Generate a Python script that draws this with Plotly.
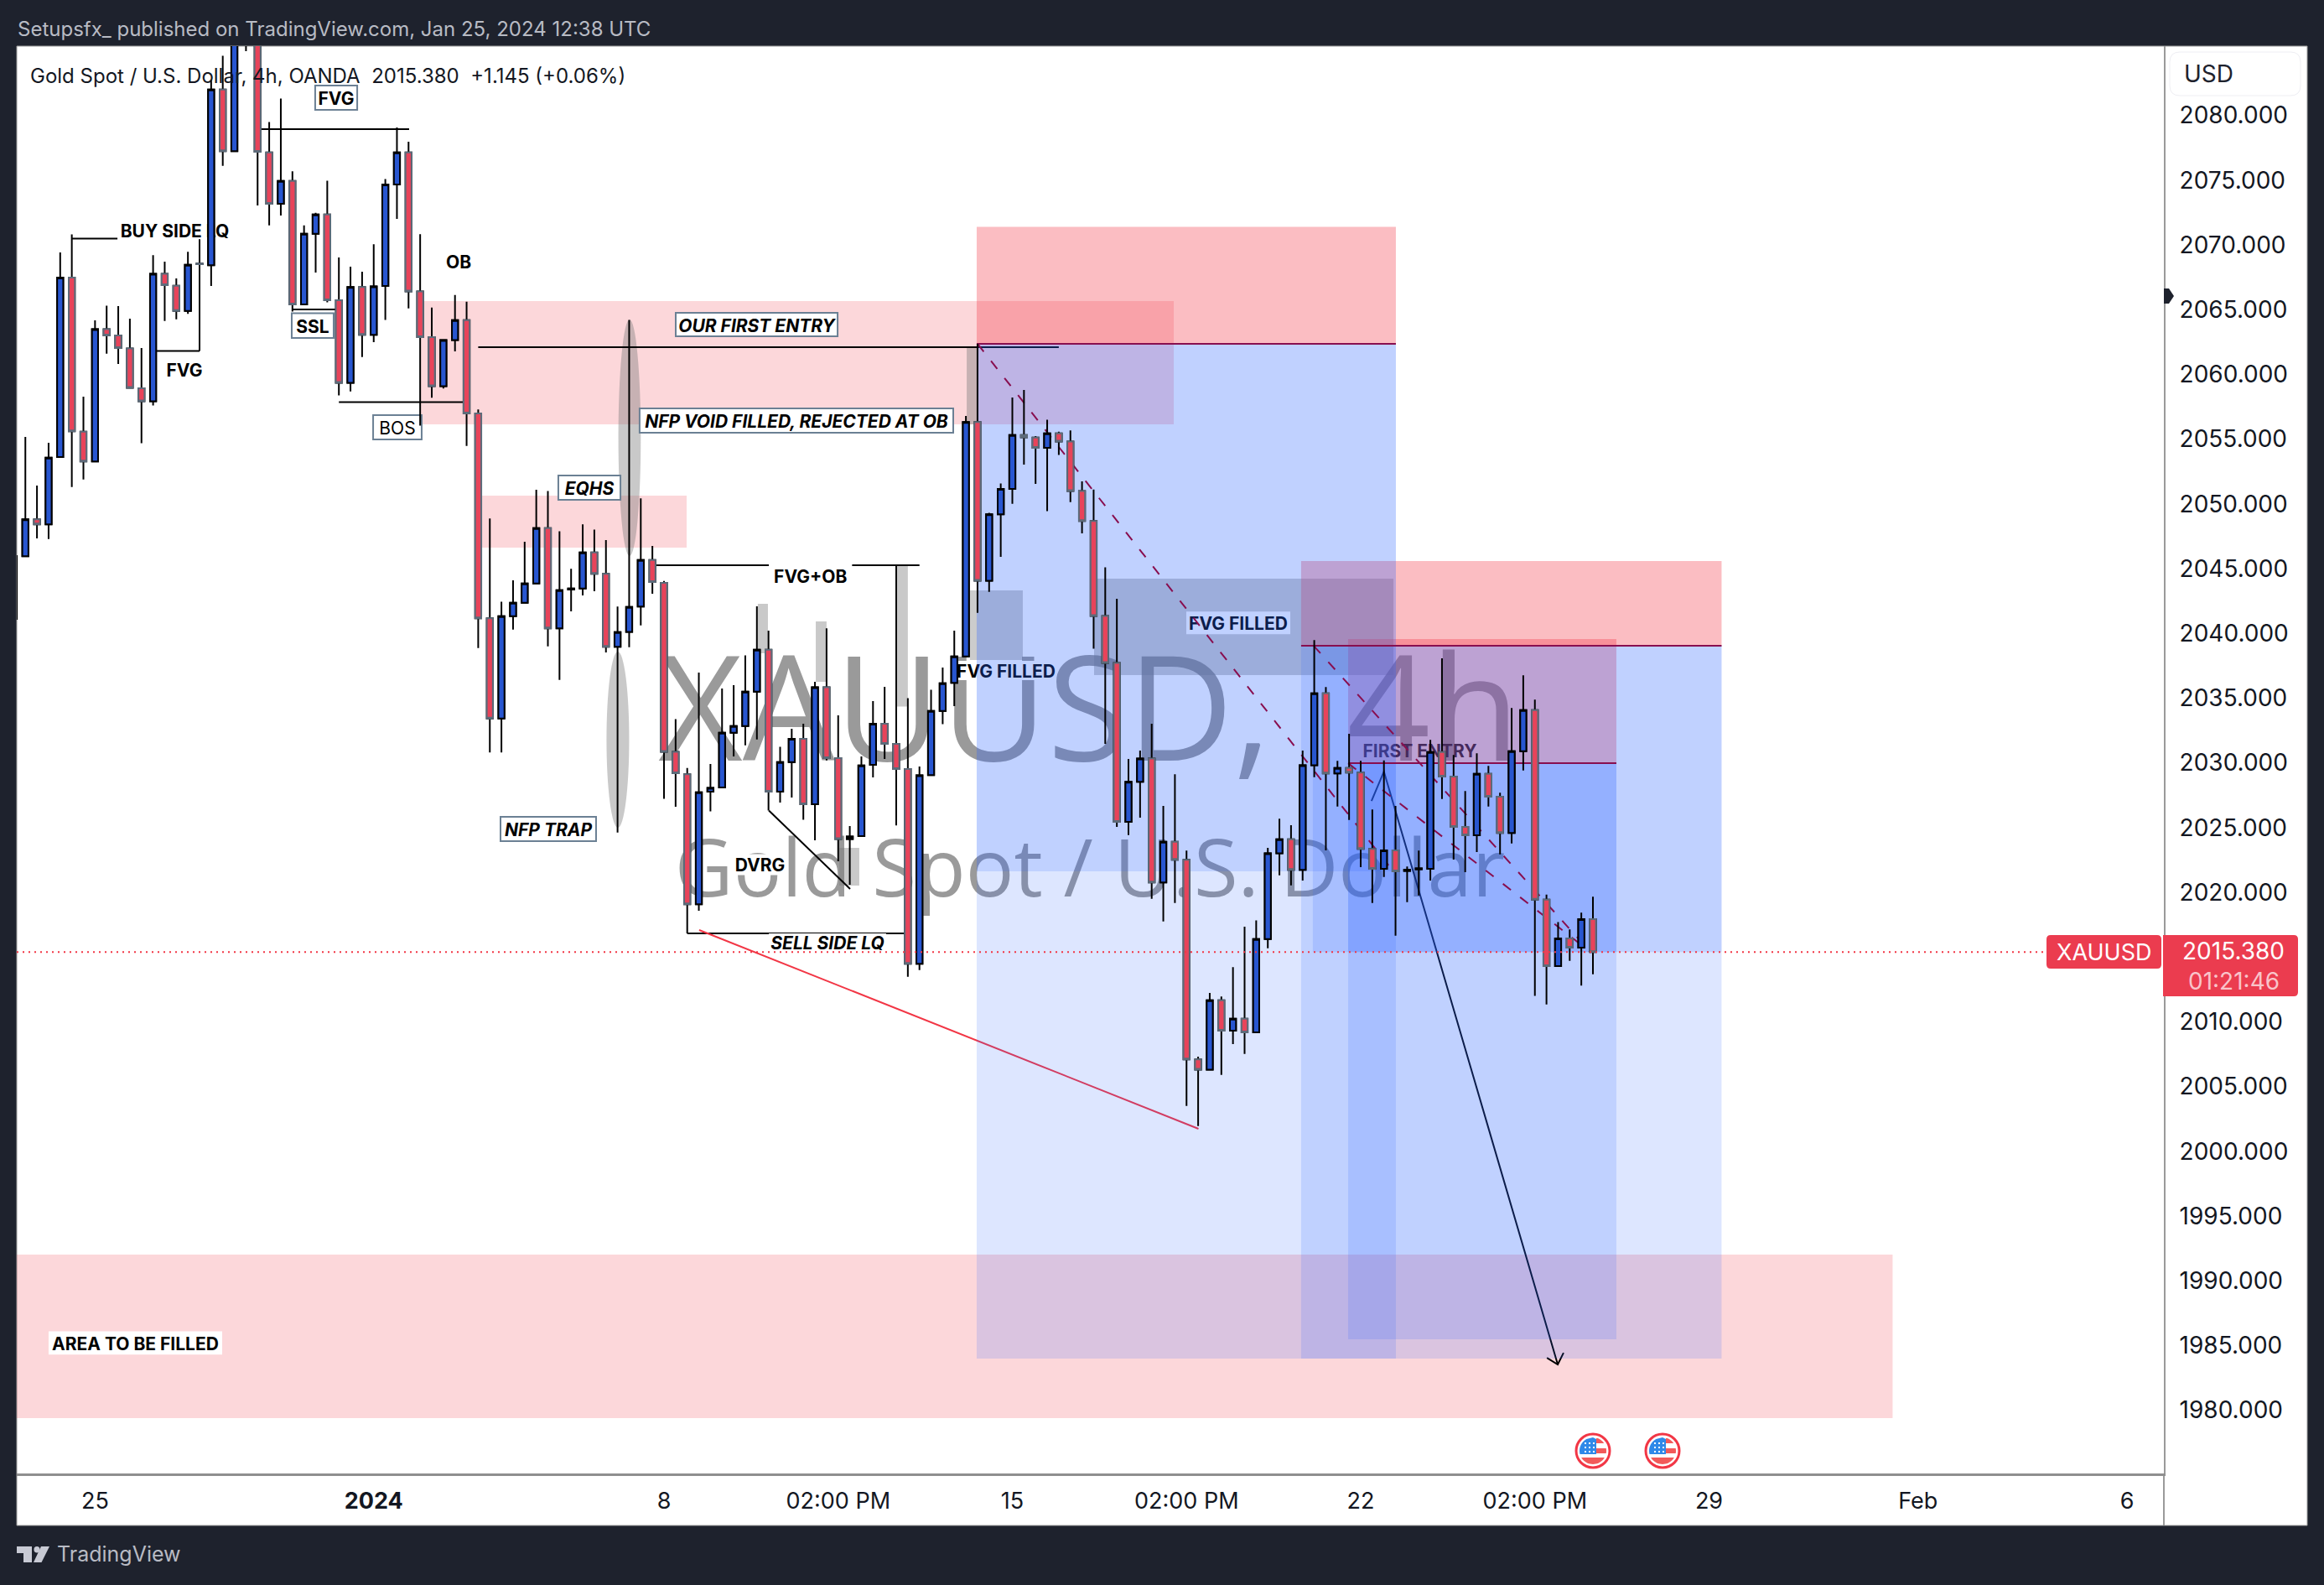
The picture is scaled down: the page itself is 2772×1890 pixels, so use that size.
import plotly.graph_objects as go

# ---------- candle data (bar index -1 .. 135, 4h bars) ----------
opens = [2041.11,2045.95,2048.80,2048.41,2053.61,2067.47,2055.58,2053.27,2063.49,2063.00,2062.00,2058.93,2057.93,2067.77,2066.85,2064.90,2068.56,2068.43,2082.0,2077.24,2088.5,2087.0,2077.14,2073.17,2074.94,2065.40,2070.86,2072.35,2065.73,2059.35,2066.74,2063.06,2066.83,2074.66,2077.14,2066.41,2062.88,2059.09,2062.65,2064.18,2056.99,2041.16,2033.43,2041.33,2042.36,2043.85,2048.13,2040.38,2043.38,2043.47,2046.25,2044.59,2038.96,2040.11,2042.07,2045.67,2043.90,2030.85,2029.12,2019.08,2027.77,2028.10,2032.33,2032.84,2035.50,2038.74,2027.77,2030.06,2031.85,2026.80,2035.83,2030.37,2024.12,2024.34,2029.85,2033.02,2031.46,2029.52,2014.48,2029.05,2034.0,2036.17,2038.22,2056.32,2044.06,2049.20,2051.16,2055.32,2055.12,2054.33,2055.44,2054.82,2051.0,2048.67,2041.35,2037.72,2025.44,2028.53,2030.34,2020.76,2023.91,2022.51,2007.09,2006.31,2011.66,2009.31,2010.24,2009.18,2016.39,2023.02,2024.10,2021.73,2029.81,2035.37,2029.18,2029.60,2029.24,2023.35,2021.81,2023.24,2021.66,2021.78,2021.81,2030.84,2028.94,2025.05,2024.40,2029.15,2027.38,2024.58,2030.90,2034.07,2019.44,2014.30,2016.44,2015.73,2017.93]
highs = [2045.95,2055.17,2051.41,2054.72,2069.42,2070.81,2058.28,2064.17,2065.31,2065.28,2064.30,2062.03,2069.20,2068.70,2067.41,2069.46,2070.43,2082.76,2084.61,2088.0,2088.8,2087.5,2079.49,2081.31,2075.68,2071.50,2072.47,2074.96,2069.03,2068.32,2067.93,2070.05,2075.09,2079.07,2077.97,2070.82,2065.16,2062.65,2066.13,2065.62,2057.29,2048.87,2042.45,2044.09,2047.07,2051.09,2051.0,2047.89,2044.98,2048.41,2048.02,2047.20,2042.07,2064.20,2050.42,2046.75,2044.05,2033.37,2029.60,2036.97,2029.91,2035.74,2036.0,2038.30,2042.09,2040.21,2031.24,2032.63,2033.02,2036.26,2040.38,2033.67,2025.12,2030.49,2034.77,2035.87,2045.26,2034.99,2029.72,2035.64,2037.36,2040.21,2056.79,2062.36,2049.31,2051.58,2058.21,2058.80,2055.23,2056.50,2055.58,2055.67,2051.74,2051.11,2045.10,2042.67,2030.30,2030.95,2033.02,2026.67,2029.11,2023.22,2007.31,2012.23,2011.95,2014.22,2017.34,2017.84,2023.43,2025.68,2025.18,2030.95,2039.48,2035.85,2030.15,2032.24,2030.15,2026.39,2030.19,2026.67,2021.99,2023.22,2031.77,2038.07,2030.60,2027.82,2030.73,2029.76,2027.69,2034.23,2036.76,2034.88,2019.83,2017.71,2017.13,2018.43,2019.66]
lows = [2041.11,2045.95,2047.33,2047.29,2053.61,2051.30,2051.88,2053.27,2061.60,2060.80,2058.96,2054.68,2057.60,2064.13,2064.26,2064.67,2061.93,2066.83,2076.11,2077.24,2084.96,2073.04,2071.50,2072.27,2064.85,2065.40,2067.86,2065.56,2058.37,2058.68,2061.34,2062.49,2064.21,2072.01,2065.10,2056.04,2058.19,2058.91,2061.77,2054.48,2038.87,2030.80,2030.80,2040.29,2042.36,2043.85,2039.0,2036.41,2041.70,2042.93,2043.25,2038.52,2024.62,2038.93,2040.62,2043.06,2027.22,2026.61,2016.83,2018.58,2026.25,2028.10,2030.49,2031.36,2031.80,2026.32,2026.94,2027.32,2025.60,2024.02,2030.18,2022.40,2020.58,2024.34,2028.87,2030.30,2025.16,2013.48,2013.99,2029.05,2032.98,2034.38,2038.22,2041.59,2043.21,2045.91,2050.01,2053.03,2051.55,2049.43,2053.78,2050.14,2047.72,2038.81,2031.46,2025.05,2024.42,2025.76,2019.50,2017.75,2019.18,2003.50,2001.95,2006.31,2005.90,2008.28,2007.52,2009.18,2015.68,2021.31,2020.54,2020.91,2028.89,2023.24,2026.63,2025.59,2021.94,2019.18,2021.19,2016.65,2019.24,2019.76,2020.91,2027.21,2022.53,2021.55,2023.11,2026.63,2022.93,2023.78,2029.41,2012.01,2011.34,2014.30,2014.71,2012.79,2013.67]
closes = [2045.95,2048.80,2048.41,2053.57,2067.47,2055.60,2053.27,2063.49,2063.01,2062.03,2058.96,2057.93,2067.77,2066.89,2064.90,2068.46,2068.51,2082.0,2077.24,2087.0,2086.5,2077.19,2073.17,2074.94,2065.40,2070.86,2072.35,2065.73,2059.35,2066.74,2063.06,2066.79,2074.66,2077.14,2066.41,2062.88,2059.09,2062.65,2064.18,2056.99,2041.16,2033.43,2041.33,2042.36,2043.85,2048.13,2040.38,2043.34,2043.47,2046.25,2044.59,2038.96,2040.10,2042.04,2045.67,2043.96,2030.85,2029.20,2019.08,2027.73,2028.06,2032.33,2032.84,2035.50,2038.74,2027.77,2030.06,2031.85,2026.80,2035.83,2030.37,2024.12,2024.31,2029.79,2033.02,2031.46,2029.52,2014.48,2029.03,2034.0,2036.15,2038.21,2056.32,2044.06,2049.20,2051.16,2055.32,2055.14,2054.33,2055.44,2054.82,2051.0,2048.67,2041.35,2037.72,2025.44,2028.53,2030.34,2020.76,2023.91,2022.51,2007.09,2006.31,2011.66,2009.31,2010.24,2009.18,2016.39,2023.02,2024.10,2021.73,2029.81,2035.37,2029.18,2029.60,2029.24,2023.35,2021.81,2023.24,2021.62,2021.74,2021.84,2030.84,2028.94,2025.05,2024.40,2029.15,2027.38,2024.58,2030.90,2034.07,2019.44,2014.30,2016.44,2015.73,2017.93,2015.38]
bars = list(range(-1, len(opens) - 1))

# ---------- axes (2015 is covered by the last-price tag in the reference) ----------
price_ticks = [1980,1985,1990,1995,2000,2005,2010,2020,2025,2030,2035,2040,2045,2050,2055,2060,2065,2070,2075,2080]
time_tick_bars = [6,30,55,70,85,100,115,130,145,163,181]
time_tick_text = ["25","<b>2024</b>","8","02:00 PM","15","02:00 PM","22","02:00 PM","29","Feb","6"]
last_price = 2015.38
bar_range = [-0.74, 184.17]
price_range = [1975.12, 2085.35]

# ---------- drawing values, in (bar, price) units ----------
# supply zones: bar0, bar1, price0, price1
pink_zones = [(33.99,98.9,2065.66,2056.14),(39.33,56.95,2050.63,2046.62),(-0.74,160.81,1992.02,1979.39)]
fvg_zones = [(81.35,85.9,2043.32,2037.94),(92.04,117.82,2044.22,2036.77)]
grey_bars = [(63.08,63.95,2042.28,2038.46),(68.07,69.0,2040.92,2036.26),(75.07,76.0,2045.26,2034.35),(70.09,71.82,2023.43,2020.52),(81.07,81.93,2062.03,2056.14)]
ellipses = [(51.07,53.0,2064.24,2045.97),(50.05,52.0,2038.59,2024.99)]
# positions: bar0, fill bar0, bar1, stop, entry, filled-to, target
positions = [(81.93,81.93,118.03,2071.39,2062.36,2021.62,1983.99),
             (109.87,110.88,146.08,2045.58,2039.04,2015.38,1983.99),
             (113.92,113.92,137.02,2039.56,2029.97,2015.38,1985.48)]
stat_lines = [(82.0,2062.36,117.8,2021.62),(110.95,2039.04,134.8,2015.38),(113.92,2029.97,134.8,2015.38)]
black_lines = [(4.03,2070.48,15.0,2070.48),(11.0,2061.81,15.0,2061.81),(15.0,2070.48,15.0,2061.81),(20.27,2078.94,33.05,2078.94),
               (23.0,2065.01,26.73,2065.01),(27.0,2057.86,37.8,2057.86),(39.0,2062.1,89.0,2062.1),
               (54.3,2045.26,77.0,2045.26),(57.0,2016.83,75.8,2016.83),(64.03,2026.32,71.03,2020.26)]
red_line = (58.03,2017.09,101.03,2001.74)
arrow_xs = [115.93,117.0,131.97]
arrow_ys = [2027.06,2029.33,1983.54]
arrow_head_xs = [131.04,131.97,132.47]
arrow_head_ys = [1984.05,1983.54,1984.44]
# labels: text, bar0, bar1, price0, price1, fill, border
labels = [("<b>FVG</b>",24.96,28.58,2082.31,2080.43,True,True),
          ("<b>SSL</b>",22.94,26.55,2064.72,2062.81,True,True),
          ("BOS",29.95,34.13,2056.85,2054.97,True,True),
          ("<b><i>EQHS</i></b>",45.90,51.25,2052.19,2050.31,True,True),
          ("<b><i>NFP VOID FILLED, REJECTED AT OB</i></b>",52.90,79.91,2057.37,2055.49,True,True),
          ("<b><i>OUR FIRST ENTRY</i></b>",56.01,69.95,2064.75,2062.94,True,True),
          ("<b><i>NFP TRAP</i></b>",40.92,49.15,2025.83,2023.95,True,True),
          ("<b>FVG</b>",11.9,15.5,2061.19,2059.64,False,False),
          ("<b>OB</b>",35.94,38.68,2069.61,2067.93,False,False),
          ("<b>BUY SIDE LQ</b>",7.93,17.82,2072.0,2070.3,True,False),
          ("<b>DVRG</b>",61.06,65.47,2022.95,2021.33,True,False),
          ("<b>AREA TO BE FILLED</b>",2.0,16.95,1986.1,1984.3,True,False),
          ("<b>FVG FILLED</b>",80.2,88.72,2037.88,2036.39,True,False),
          ("<b>FVG FILLED</b>",99.98,108.94,2041.68,2039.93,True,False),
          ("<b>FIRST ENTRY</b>",115.29,124.89,2031.5,2030.47,False,False),
          ("<b>FVG+OB</b>",64.03,71.2,2045.6,2043.33,True,False),
          ("<b><i>SELL SIDE LQ</i></b>",64.03,74.13,2016.83,2015.47,True,False)]

W, H = 2772, 1890
PANE_L, PANE_R, PANE_T, PANE_B = 20, 2581, 55, 1757
FONT = "Inter"
DARK = "#1e222d"


def fx(x):
    return x / W


def fy(y):
    return 1 - y / H


def frect(x0, y0, x1, y1, fill, line=None, lw=0, layer="below", label=None):
    d = dict(type="rect", xref="paper", yref="paper", x0=fx(x0), x1=fx(x1), y0=fy(y0), y1=fy(y1),
             fillcolor=fill, line=dict(color=line or "rgba(0,0,0,0)", width=lw), layer=layer)
    if label:
        d["label"] = label
    return d


def rounded(x0, y0, x1, y1, r, fill, line=None, lw=0, layer="above", corners=(1, 1, 1, 1)):
    tl, tr, br, bl = [r * c for c in corners]
    p = (f"M{fx(x0 + tl)},{fy(y0)} L{fx(x1 - tr)},{fy(y0)} Q{fx(x1)},{fy(y0)} {fx(x1)},{fy(y0 + tr)} "
         f"L{fx(x1)},{fy(y1 - br)} Q{fx(x1)},{fy(y1)} {fx(x1 - br)},{fy(y1)} L{fx(x0 + bl)},{fy(y1)} "
         f"Q{fx(x0)},{fy(y1)} {fx(x0)},{fy(y1 - bl)} L{fx(x0)},{fy(y0 + tl)} Q{fx(x0)},{fy(y0)} {fx(x0 + tl)},{fy(y0)} Z")
    return dict(type="path", xref="paper", yref="paper", path=p, fillcolor=fill,
                line=dict(color=line or "rgba(0,0,0,0)", width=lw), layer=layer)


def poly(points, fill, layer="above"):
    p = "M" + " L".join(f"{fx(x)},{fy(y)}" for x, y in points) + " Z"
    return dict(type="path", xref="paper", yref="paper", path=p, fillcolor=fill,
                line=dict(color="rgba(0,0,0,0)", width=0), layer=layer)


def clipped(cx, cy, r, x0, x1, y0, y1, fill):
    n = 10
    left, right = [], []
    for k in range(n + 1):
        y = y0 + (y1 - y0) * k / n
        d = max(r * r - (y - cy) ** 2, 0) ** 0.5
        left.append((max(x0, cx - d), y))
        right.append((min(x1, cx + d), y))
    return poly(left + right[::-1], fill)


def flag(cx, cy):
    out = [dict(type="circle", xref="paper", yref="paper", x0=fx(cx - 20), x1=fx(cx + 20), y0=fy(cy - 20), y1=fy(cy + 20),
                fillcolor="white", line=dict(color="#f23645", width=3), layer="above")]
    r = 16
    out.append(clipped(cx, cy, r, cx - 16, cx + 4, cy - 16, cy + 4, "#2f89e8"))
    out.append(clipped(cx, cy, r, cx + 4, cx + 16, cy - 15, cy - 9, "#f25a5a"))
    out.append(clipped(cx, cy, r, cx + 4, cx + 16, cy - 3, cy + 3, "#f25a5a"))
    out.append(clipped(cx, cy, r, cx - 16, cx + 16, cy + 8, cy + 16, "#f25a5a"))
    for i in range(3):
        for j in range(3):
            sx, sy = cx - 10 + 5 * i, cy - 10 + 5 * j
            out.append(frect(sx, sy, sx + 2, sy + 2, "white", layer="above"))
    return out


def drect(x0, x1, y0, y1, fill, **kw):
    return dict(type="rect", xref="x", yref="y", x0=x0, x1=x1, y0=y0, y1=y1, fillcolor=fill,
                line=kw.pop("line", dict(width=0)), layer=kw.pop("layer", "below"), **kw)


def dline(x0, y0, x1, y1, color, width=2, dash="solid", layer="below"):
    return dict(type="line", xref="x", yref="y", x0=x0, y0=y0, x1=x1, y1=y1,
                line=dict(color=color, width=width, dash=dash), layer=layer)


def dpath(xs, ys, color, width=2):
    p = "M" + " L".join(f"{a},{b}" for a, b in zip(xs, ys))
    return dict(type="path", xref="x", yref="y", path=p, fillcolor="rgba(0,0,0,0)",
                line=dict(color=color, width=width), layer="below")


shapes = []
# chrome
shapes.append(frect(PANE_L, PANE_T, 2752, 1819, "white", line="#9a9a9a", lw=1))
# watermark (in the lower layer, so zones tint it)
shapes.append(frect(500, 706, 2098, 996, "rgba(0,0,0,0)", label=dict(
    text="XAUUSD,&nbsp;&nbsp;4h", textposition="middle center", font=dict(family="Open Sans", size=174, color="#9a9a9a"))))
shapes.append(frect(500, 968, 2100, 1108, "rgba(0,0,0,0)", label=dict(
    text="Gold Spot / U.S. Dollar", textposition="middle center", font=dict(family="Open Sans", size=96, color="#9a9a9a"))))
# pink zones, FVG zones, grey marks
for x0, x1, y0, y1 in pink_zones:
    shapes.append(drect(x0, x1, y0, y1, "rgba(242,54,69,0.2)"))
for x0, x1, y0, y1 in fvg_zones:
    shapes.append(drect(x0, x1, y0, y1, "rgba(120,120,120,0.38)"))
for x0, x1, y0, y1 in grey_bars:
    shapes.append(drect(x0, x1, y0, y1, "rgba(120,120,120,0.4)"))
for x0, x1, y0, y1 in ellipses:
    shapes.append(dict(type="circle", xref="x", yref="y", x0=x0, x1=x1, y0=y0, y1=y1,
                       fillcolor="rgba(120,120,120,0.4)", line=dict(width=0), layer="below"))
# black lines
for x0, y0, x1, y1 in black_lines:
    shapes.append(dline(x0, y0, x1, y1, "#000000", 2))
shapes.append(dline(*red_line, "#f23645", 2))
shapes.append(dpath(arrow_xs, arrow_ys, "#000000", 2))
shapes.append(dpath(arrow_head_xs, arrow_head_ys, "#000000", 2))
# text labels
for text, x0, x1, y0, y1, fill, border in labels:
    shapes.append(drect(x0, x1, y0, y1, "white" if fill else "rgba(0,0,0,0)",
                        line=dict(color="#6b8094" if border else "rgba(0,0,0,0)", width=2 if border else 0),
                        label=dict(text=text, textposition="middle center", padding=0,
                                   font=dict(family=FONT, size=21, color="#000000"))))
# positions: stop areas first, then target areas tint them
for x0, xf, x1, stop, entry, filled, target in positions:
    shapes.append(drect(x0, x1, entry, stop, "rgba(242,54,69,0.33)"))
for x0, xf, x1, stop, entry, filled, target in positions:
    shapes.append(drect(x0, x1, target, entry, "rgba(41,98,255,0.16)"))
    shapes.append(drect(xf, x1, filled, entry, "rgba(41,98,255,0.16)"))
for x0, xf, x1, stop, entry, filled, target in positions:
    shapes.append(dline(x0, entry, x1, entry, "#880e4f", 2))
for x0, y0, x1, y1 in stat_lines:
    shapes.append(dline(x0, y0, x1, y1, "#880e4f", 2, dash="12px,14px"))
# current price line
shapes.append(dline(bar_range[0], last_price, bar_range[1], last_price, "#f23645", 2, dash="2px,5px", layer="above"))
# divider in the time axis
shapes.append(dict(type="line", xref="paper", yref="paper", x0=fx(PANE_R), x1=fx(PANE_R), y0=fy(PANE_B), y1=fy(1819),
                   line=dict(color="#9a9a9a", width=2), layer="below"))
# price scale furniture
shapes.append(rounded(2588, 62, 2744, 114, 12, "white", line="#eeeef3", lw=1))
shapes.append(poly([(2581, 344), (2587, 344), (2593, 353), (2587, 362), (2581, 362)], DARK))
shapes.append(rounded(2441, 1115, 2578, 1155, 5, "#eb3c4f"))
shapes.append(rounded(2580, 1115, 2741, 1188, 5, "#eb3c4f", corners=(0, 1, 1, 0)))
# event flags
shapes += flag(1900, 1730)
shapes += flag(1983, 1730)
# footer logo
shapes.append(poly([(20, 1844), (38, 1844), (38, 1863), (28, 1863), (28, 1852), (20, 1852)], "#c8cad4"))
shapes.append(dict(type="circle", xref="paper", yref="paper", x0=fx(40.5), x1=fx(47.5), y0=fy(1844), y1=fy(1851.5),
                   fillcolor="#c8cad4", line=dict(width=0), layer="above"))
shapes.append(poly([(49, 1844), (59, 1844), (49.5, 1863), (40, 1863)], "#c8cad4"))


def note(text, x, y, size, color, anchor="center", family=FONT):
    return dict(text=text, xref="paper", yref="paper", x=fx(x), y=fy(y), xanchor=anchor, yanchor="middle",
                showarrow=False, font=dict(family=family, size=size, color=color))


annotations = [
    note("Setupsfx_ published on TradingView.com, Jan 25, 2024 12:38 UTC", 19, 35, 24, "#b8bbc4", "left"),
    note("Gold Spot / U.S. Dollar, 4h, OANDA&nbsp;&nbsp;2015.380&nbsp;&nbsp;+1.145 (+0.06%)", 34, 90, 24, "#131722", "left"),
    note("USD", 2634, 88, 28, "#1e222d"),
    note("XAUUSD", 2510, 1135, 27, "#ffffff"),
    note("2015.380", 2664, 1134, 28, "#ffffff"),
    note("01:21:46", 2664, 1170, 28, "#f9c4ca"),
    note("TradingView", 66, 1853, 25, "#b8bbc4", "left"),
]

fig = go.Figure()
# wicks
fig.add_trace(go.Candlestick(
    x=bars, open=opens, high=highs, low=lows, close=closes,
    increasing=dict(line=dict(color="#000000", width=2), fillcolor="#2856d0"),
    decreasing=dict(line=dict(color="#000000", width=2), fillcolor="#e8435a"),
    whiskerwidth=0, showlegend=False, hoverinfo="skip"))
# bodies with their own borders
body_hi = [max(a, b) for a, b in zip(opens, closes)]
body_lo = [min(a, b) for a, b in zip(opens, closes)]
fig.add_trace(go.Candlestick(
    x=bars, open=opens, high=body_hi, low=body_lo, close=closes,
    increasing=dict(line=dict(color="#000000", width=2), fillcolor="#2856d0"),
    decreasing=dict(line=dict(color="#5d6b7a", width=2), fillcolor="#e8435a"),
    whiskerwidth=0, showlegend=False, hoverinfo="skip"))

fig.update_layout(
    width=W, height=H, autosize=False,
    margin=dict(l=0, r=0, t=0, b=0, pad=0),
    paper_bgcolor=DARK, plot_bgcolor="white",
    showlegend=False, boxgap=0.25, boxgroupgap=0.3,
    shapes=shapes, annotations=annotations,
    font=dict(family=FONT, size=26, color="#131722"),
    xaxis=dict(domain=[fx(PANE_L), fx(PANE_R)], range=bar_range, rangeslider=dict(visible=False),
               tickmode="array", tickvals=time_tick_bars, ticktext=time_tick_text,
               ticks="outside", ticklen=7, tickcolor="rgba(0,0,0,0)", showgrid=False, zeroline=False,
               showline=True, linecolor="#8f8f8f", linewidth=3, tickfont=dict(family=FONT, size=27, color="#131722")),
    yaxis=dict(domain=[fy(PANE_B), fy(PANE_T)], range=price_range, side="right",
               tickmode="array", tickvals=price_ticks, tickformat=".3f",
               ticks="outside", ticklen=11, tickcolor="rgba(0,0,0,0)", showgrid=False, zeroline=False,
               showline=True, linecolor="#9a9a9a", linewidth=2, tickfont=dict(family=FONT, size=28, color="#131722")),
)

fig.write_html("out.html", config=dict(displayModeBar=False),
               post_script="document.body.style.margin='0';document.body.style.overflow='hidden';")
